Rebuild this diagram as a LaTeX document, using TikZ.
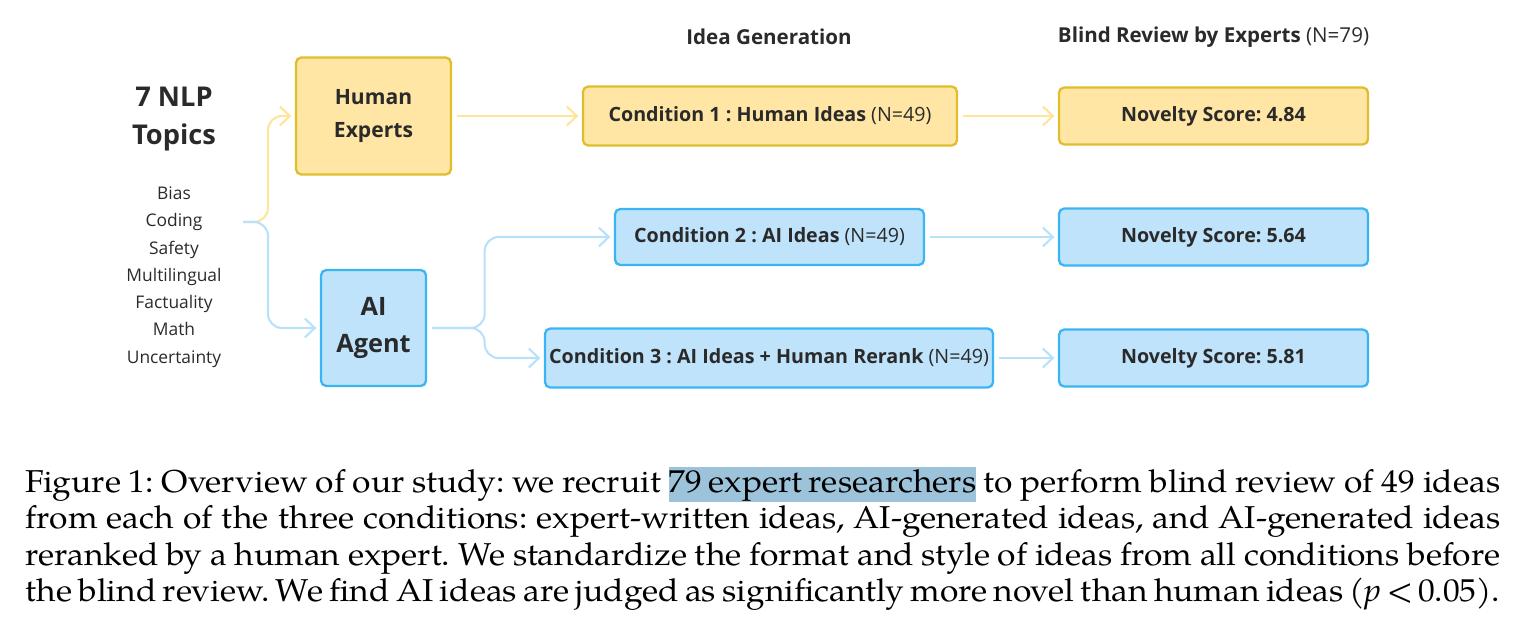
\documentclass[tikz,border=0pt]{standalone}
\usepackage{fontspec}
\setmainfont{Open Sans}
\newfontfamily\palfont[FakeStretch=1.06, WordSpace={0.75,0.3,0.5}]{TeX Gyre Pagella}
\usepackage{xcolor}
\usepackage{tikz}
\usetikzlibrary{arrows.meta,positioning,calc}
\definecolor{goldfill}{HTML}{FFE6A4}
\definecolor{golddraw}{HTML}{E0BD2C}
\definecolor{goldline}{HTML}{FFE49C}
\definecolor{skyfill}{HTML}{BFE3FB}
\definecolor{skydraw}{HTML}{3AB5F3}
\definecolor{skyline}{HTML}{BAE1FA}
\definecolor{ink}{HTML}{2A2A2A}
\definecolor{hilite}{HTML}{9DC3DB}
\frenchspacing
\newcommand{\capfont}{\palfont\fontsize{18}{21.6}\selectfont}
\newcommand{\capline}[1]{\makebox[29.5cm][s]{\capfont #1}}

\begin{document}
\begin{tikzpicture}[
    stage/.style={rectangle, rounded corners=3pt, draw=#1draw, fill=#1fill, line width=1.3pt, text=ink, align=center, inner sep=0pt, font=\bfseries\fontsize{11.2}{14}\selectfont},
    flow/.style={-{Straight Barb[length=2mm,width=3.8mm]}, line width=1.2pt, color=#1line, shorten >=2pt},
    heading/.style={text=ink, font=\bfseries\fontsize{11.7}{14}\selectfont}
]
    \useasboundingbox (0,0) rectangle (30.4,-12.64);

    % Headings
    \node[heading] (gen) at (15.38,-0.74) {Idea Generation};
    \node[heading] (review) at (24.27,-0.74) {Blind Review by Experts \textmd{(N=79)}};

    % Topics
    \node[text=ink, align=center, font=\bfseries\fontsize{15.5}{21.6}\selectfont] (title) at (3.48,-2.38) {7 NLP\\Topics};
    \node[text=ink, align=center, font=\fontsize{9.9}{15.5}\selectfont] (topics) at (3.48,-5.54) {Bias\\Coding\\Safety\\Multilingual\\Factuality\\Math\\Uncertainty};
    \coordinate (split) at (4.86,-4.44);

    % Sources
    \node[stage=gold, minimum width=3.1cm, minimum height=2.34cm, font=\bfseries\fontsize{12}{19.3}\selectfont] (human) at (7.47,-2.32) {\raisebox{-2pt}{Human}\\\raisebox{-2pt}{Experts}};
    \node[stage=sky, minimum width=2.1cm, minimum height=2.32cm, font=\bfseries\fontsize{14.4}{21}\selectfont] (agent) at (7.47,-6.56) {AI\\Agent};

    % Conditions
    \node[stage=gold, minimum width=7.48cm, minimum height=1.18cm] (cond1) at (15.4,-2.32) {Condition 1 : Human Ideas \textmd{(N=49)}};
    \node[stage=sky, minimum width=6.18cm, minimum height=1.12cm] (cond2) at (15.39,-4.74) {Condition 2 : AI Ideas \textmd{(N=49)}};
    \node[stage=sky, minimum width=8.96cm, minimum height=1.18cm] (cond3) at (15.38,-7.16) {Condition 3 : AI Ideas + Human Rerank \textmd{(N=49)}};

    % Scores
    \node[stage=gold, minimum width=6.18cm, minimum height=1.14cm] (nov1) at (24.27,-2.32) {Novelty Score: 4.84};
    \node[stage=sky, minimum width=6.18cm, minimum height=1.14cm] (nov2) at (24.27,-4.74) {Novelty Score: 5.64};
    \node[stage=sky, minimum width=6.18cm, minimum height=1.14cm] (nov3) at (24.27,-7.16) {Novelty Score: 5.81};

    % Arrows
    \draw[flow=gold, rounded corners=8pt] (split) -- ++(0.5,0) |- (human.west);
    \draw[flow=sky, rounded corners=8pt] (split) -- ++(0.5,0) |- (agent.west);
    \draw[flow=gold, shorten <=3pt] (human.east) -- (cond1.west);
    \draw[flow=gold, shorten <=3pt] (cond1.east) -- (nov1.west);
    \draw[flow=sky, rounded corners=8pt, shorten <=3pt] (agent.east) -- ++(1.15,0) |- (cond2.west);
    \draw[flow=sky, rounded corners=8pt, shorten <=3pt] (agent.east) -- ++(1.15,0) |- (cond3.west);
    \draw[flow=sky, shorten <=3pt] (cond2.east) -- (nov2.west);
    \draw[flow=sky, shorten <=3pt] (cond3.east) -- (nov3.west);

    % Caption
    \setlength{\fboxsep}{0pt}
    \node[anchor=base west, inner sep=0pt] (cap1) at (0.5,-9.84) {\capline{Figure 1: Overview of our study: we recruit \colorbox{hilite}{\rule[-0.2cm]{0pt}{0.7cm}79 expert researchers} to perform blind review of 49 ideas}};
    \node[anchor=base west, inner sep=0pt] (cap2) at (0.5,-10.57) {\capline{from each of the three conditions: expert-written ideas, AI-generated ideas, and AI-generated ideas}};
    \node[anchor=base west, inner sep=0pt] (cap3) at (0.5,-11.30) {\capline{reranked by a human expert. We standardize the format and style of ideas from all conditions before}};
    \node[anchor=base west, inner sep=0pt] (cap4) at (0.5,-12.03) {\capline{the blind review. We find AI ideas are judged as significantly more novel than human ideas ({\itshape p}\,<\,0.05).}};
\end{tikzpicture}
\end{document}
